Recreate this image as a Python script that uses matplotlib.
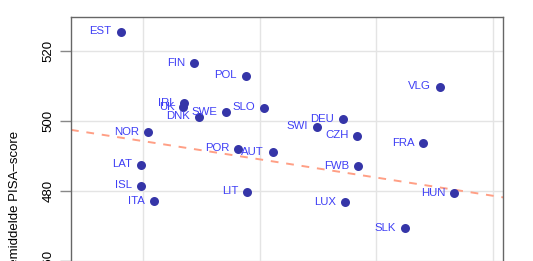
import numpy as np
import matplotlib
matplotlib.use("Agg")
import matplotlib.pyplot as plt

plt.rcParams['font.family'] = ['Liberation Sans', 'DejaVu Sans']

# Landen (labels) met x-waarde en gemiddelde PISA-score
landen = ["EST", "FIN", "POL", "SLO", "SWE", "DNK", "IRL", "UK", "DEU", "SWI",
          "CZH", "POR", "AUT", "FWB", "LIT", "LUX", "VLG", "FRA", "HUN", "SLK",
          "NOR", "LAT", "ISL", "ITA"]
x_waarde = [8.09, 14.40, 18.80, 20.37, 17.14, 14.80, 13.54, 13.45, 27.16, 24.88,
            28.36, 18.17, 21.11, 28.45, 18.94, 27.31, 35.45, 34.02, 36.68, 32.45,
            10.45, 9.83, 9.85, 10.97]
pisa_score = [525.4, 516.4, 512.8, 503.7, 502.5, 501.2, 505.0, 503.8, 500.5, 498.3,
              495.7, 492.0, 491.0, 487.1, 479.7, 476.8, 509.7, 493.6, 479.3, 469.3,
              496.8, 487.4, 481.4, 477.0]

trend_intercept = 499.4
trend_slope = -0.52

x_ticks = [10, 20, 30, 40]
y_ticks = [460, 480, 500, 520]

fig = plt.figure(figsize=(5.33, 2.61), dpi=100)
# as loopt door onder de rand van de afbeelding (bijgesneden)
ax = fig.add_axes([71 / 533, 1 - 389 / 261, (503.3 - 71) / 533, (389 - 17) / 261])

ax.set_xlim(3.83, 40.87)
ax.set_ylim(423.5, 529.6)

ax.set_xticks(x_ticks)
ax.set_yticks(y_ticks)
ax.grid(True, color='#e4e4e4', linewidth=1.0)
ax.set_axisbelow(True)

xs = np.array(ax.get_xlim())
ax.plot(xs, trend_intercept + trend_slope * xs, color='#ff9f85', linewidth=1.4,
        dashes=(4, 4), zorder=2)

ax.scatter(x_waarde, pisa_score, s=42, color='#3535a8', zorder=3, linewidths=0)
for naam, xv, yv in zip(landen, x_waarde, pisa_score):
    ax.annotate(naam, (xv, yv), xytext=(-9, 0.5), textcoords='offset pixels',
                ha='right', va='center', fontsize=8.2, color='#3f3ff5', zorder=4)

for s in ax.spines.values():
    s.set_color('#666666')
    s.set_linewidth(1.0)

ax.tick_params(axis='y', direction='out', length=8, color='#888888', width=1,
               labelsize=9.5, pad=4, labelrotation=90)
ax.tick_params(axis='x', length=0, labelbottom=False)
for lbl in ax.get_yticklabels():
    lbl.set_va('center')

ax.set_ylabel("Gemiddelde PISA–score", fontsize=9.5, labelpad=15)

fig.savefig("out.png", dpi=100)
